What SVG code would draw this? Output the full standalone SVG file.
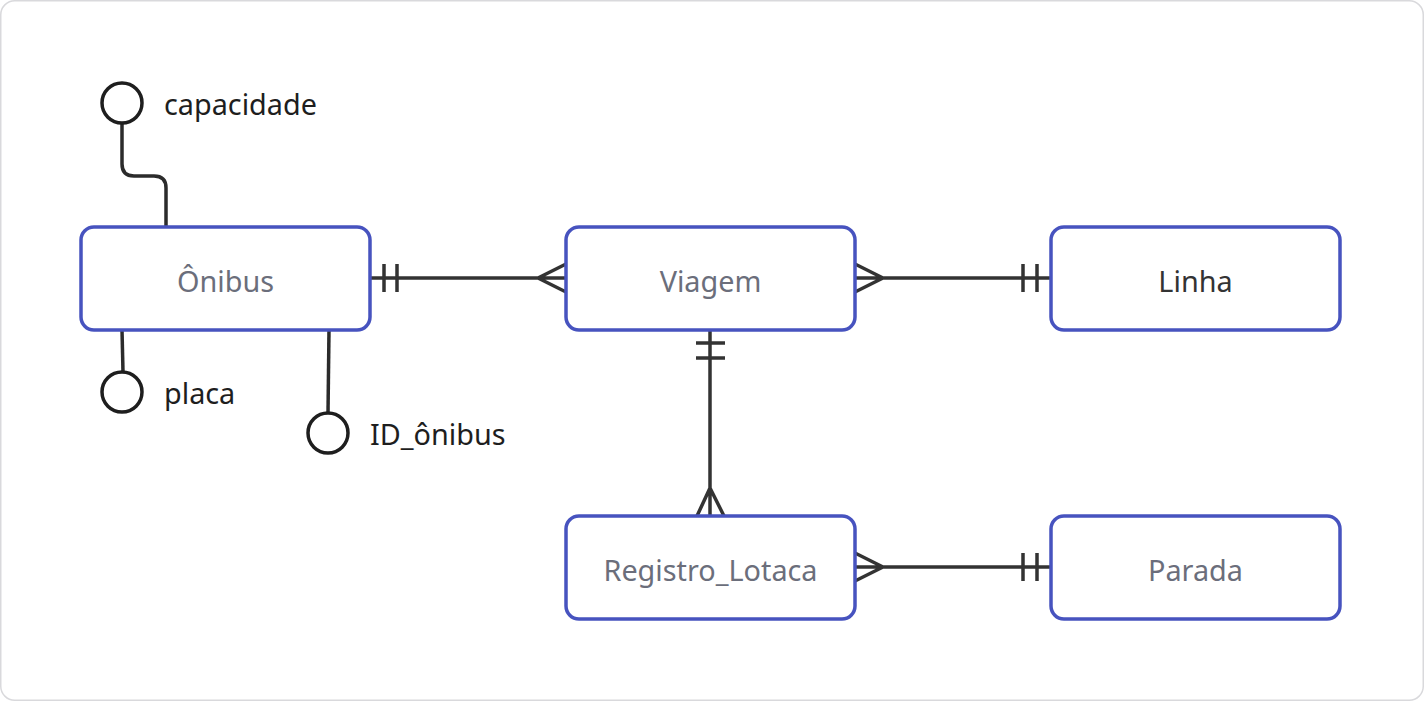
<svg xmlns="http://www.w3.org/2000/svg" width="1424" height="701" viewBox="0 0 1424 701">
<style>
.frame{fill:#fff;stroke:#d9d9dc;stroke-width:1.5}
.ent{fill:#fff;stroke:#4753bf;stroke-width:3.5}
.lbl{font-family:"Noto Sans",sans-serif;font-size:28.8px;fill:#6b6e7b;text-anchor:middle;dominant-baseline:central}
.dark{fill:#333}
.attr{font-family:"Noto Sans",sans-serif;font-size:28.8px;fill:#1e1e1e;dominant-baseline:central}
.conn{fill:none;stroke:#333;stroke-width:3.5;stroke-linecap:butt}
.ac{fill:#fff;stroke:#1e1e1e;stroke-width:3.5}
.al{fill:none;stroke:#2b2b2b;stroke-width:3.5}
</style>
<rect class="frame" x="0.75" y="0.75" width="1422.5" height="699.5" rx="14"/>
<g id="connectors">
  <path class="conn" d="M370 278 H566 M384 264 V292 M397 264 V292 M538 278 L566 264 M538 278 L566 292"/>
  <path class="conn" d="M855 278 H1051 M883 278 L855 264 M883 278 L855 292 M1023 264 V292 M1037 264 V292"/>
  <path class="conn" d="M710 330 V516 M696 343 H725 M696 358 H725 M710 488 L697 516 M710 488 L724 516"/>
  <path class="conn" d="M855 567 H1051 M883 567 L855 553 M883 567 L855 581 M1023 553 V581 M1037 553 V581"/>
</g>
<g id="attr-capacidade">
  <path class="al" d="M122 123 V164 Q122 176 134 176 H154 Q166 176 166 188 V227"/>
  <circle class="ac" cx="122" cy="103" r="20"/>
  <text class="attr" x="164" y="103">capacidade</text>
</g>
<g id="attr-placa">
  <path class="al" d="M122 330 L123 372"/>
  <circle class="ac" cx="122" cy="392" r="20"/>
  <text class="attr" x="164" y="392">placa</text>
</g>
<g id="attr-id">
  <path class="al" d="M329 330 L328 413"/>
  <circle class="ac" cx="328" cy="433" r="20"/>
  <text class="attr" x="370" y="433">ID_ônibus</text>
</g>
<g id="onibus">
  <rect class="ent" x="81" y="227" width="289" height="103" rx="13"/>
  <text class="lbl" x="225.5" y="280">Ônibus</text>
</g>
<g id="viagem">
  <rect class="ent" x="566" y="227" width="289" height="103" rx="13"/>
  <text class="lbl" x="710.5" y="280">Viagem</text>
</g>
<g id="linha">
  <rect class="ent" x="1051" y="227" width="289" height="103" rx="13"/>
  <text class="lbl dark" x="1195.5" y="280">Linha</text>
</g>
<g id="registro">
  <rect class="ent" x="566" y="516" width="289" height="103" rx="13"/>
  <text class="lbl" x="710.5" y="569">Registro_Lotaca</text>
</g>
<g id="parada">
  <rect class="ent" x="1051" y="516" width="289" height="103" rx="13"/>
  <text class="lbl" x="1195.5" y="569">Parada</text>
</g>
</svg>
